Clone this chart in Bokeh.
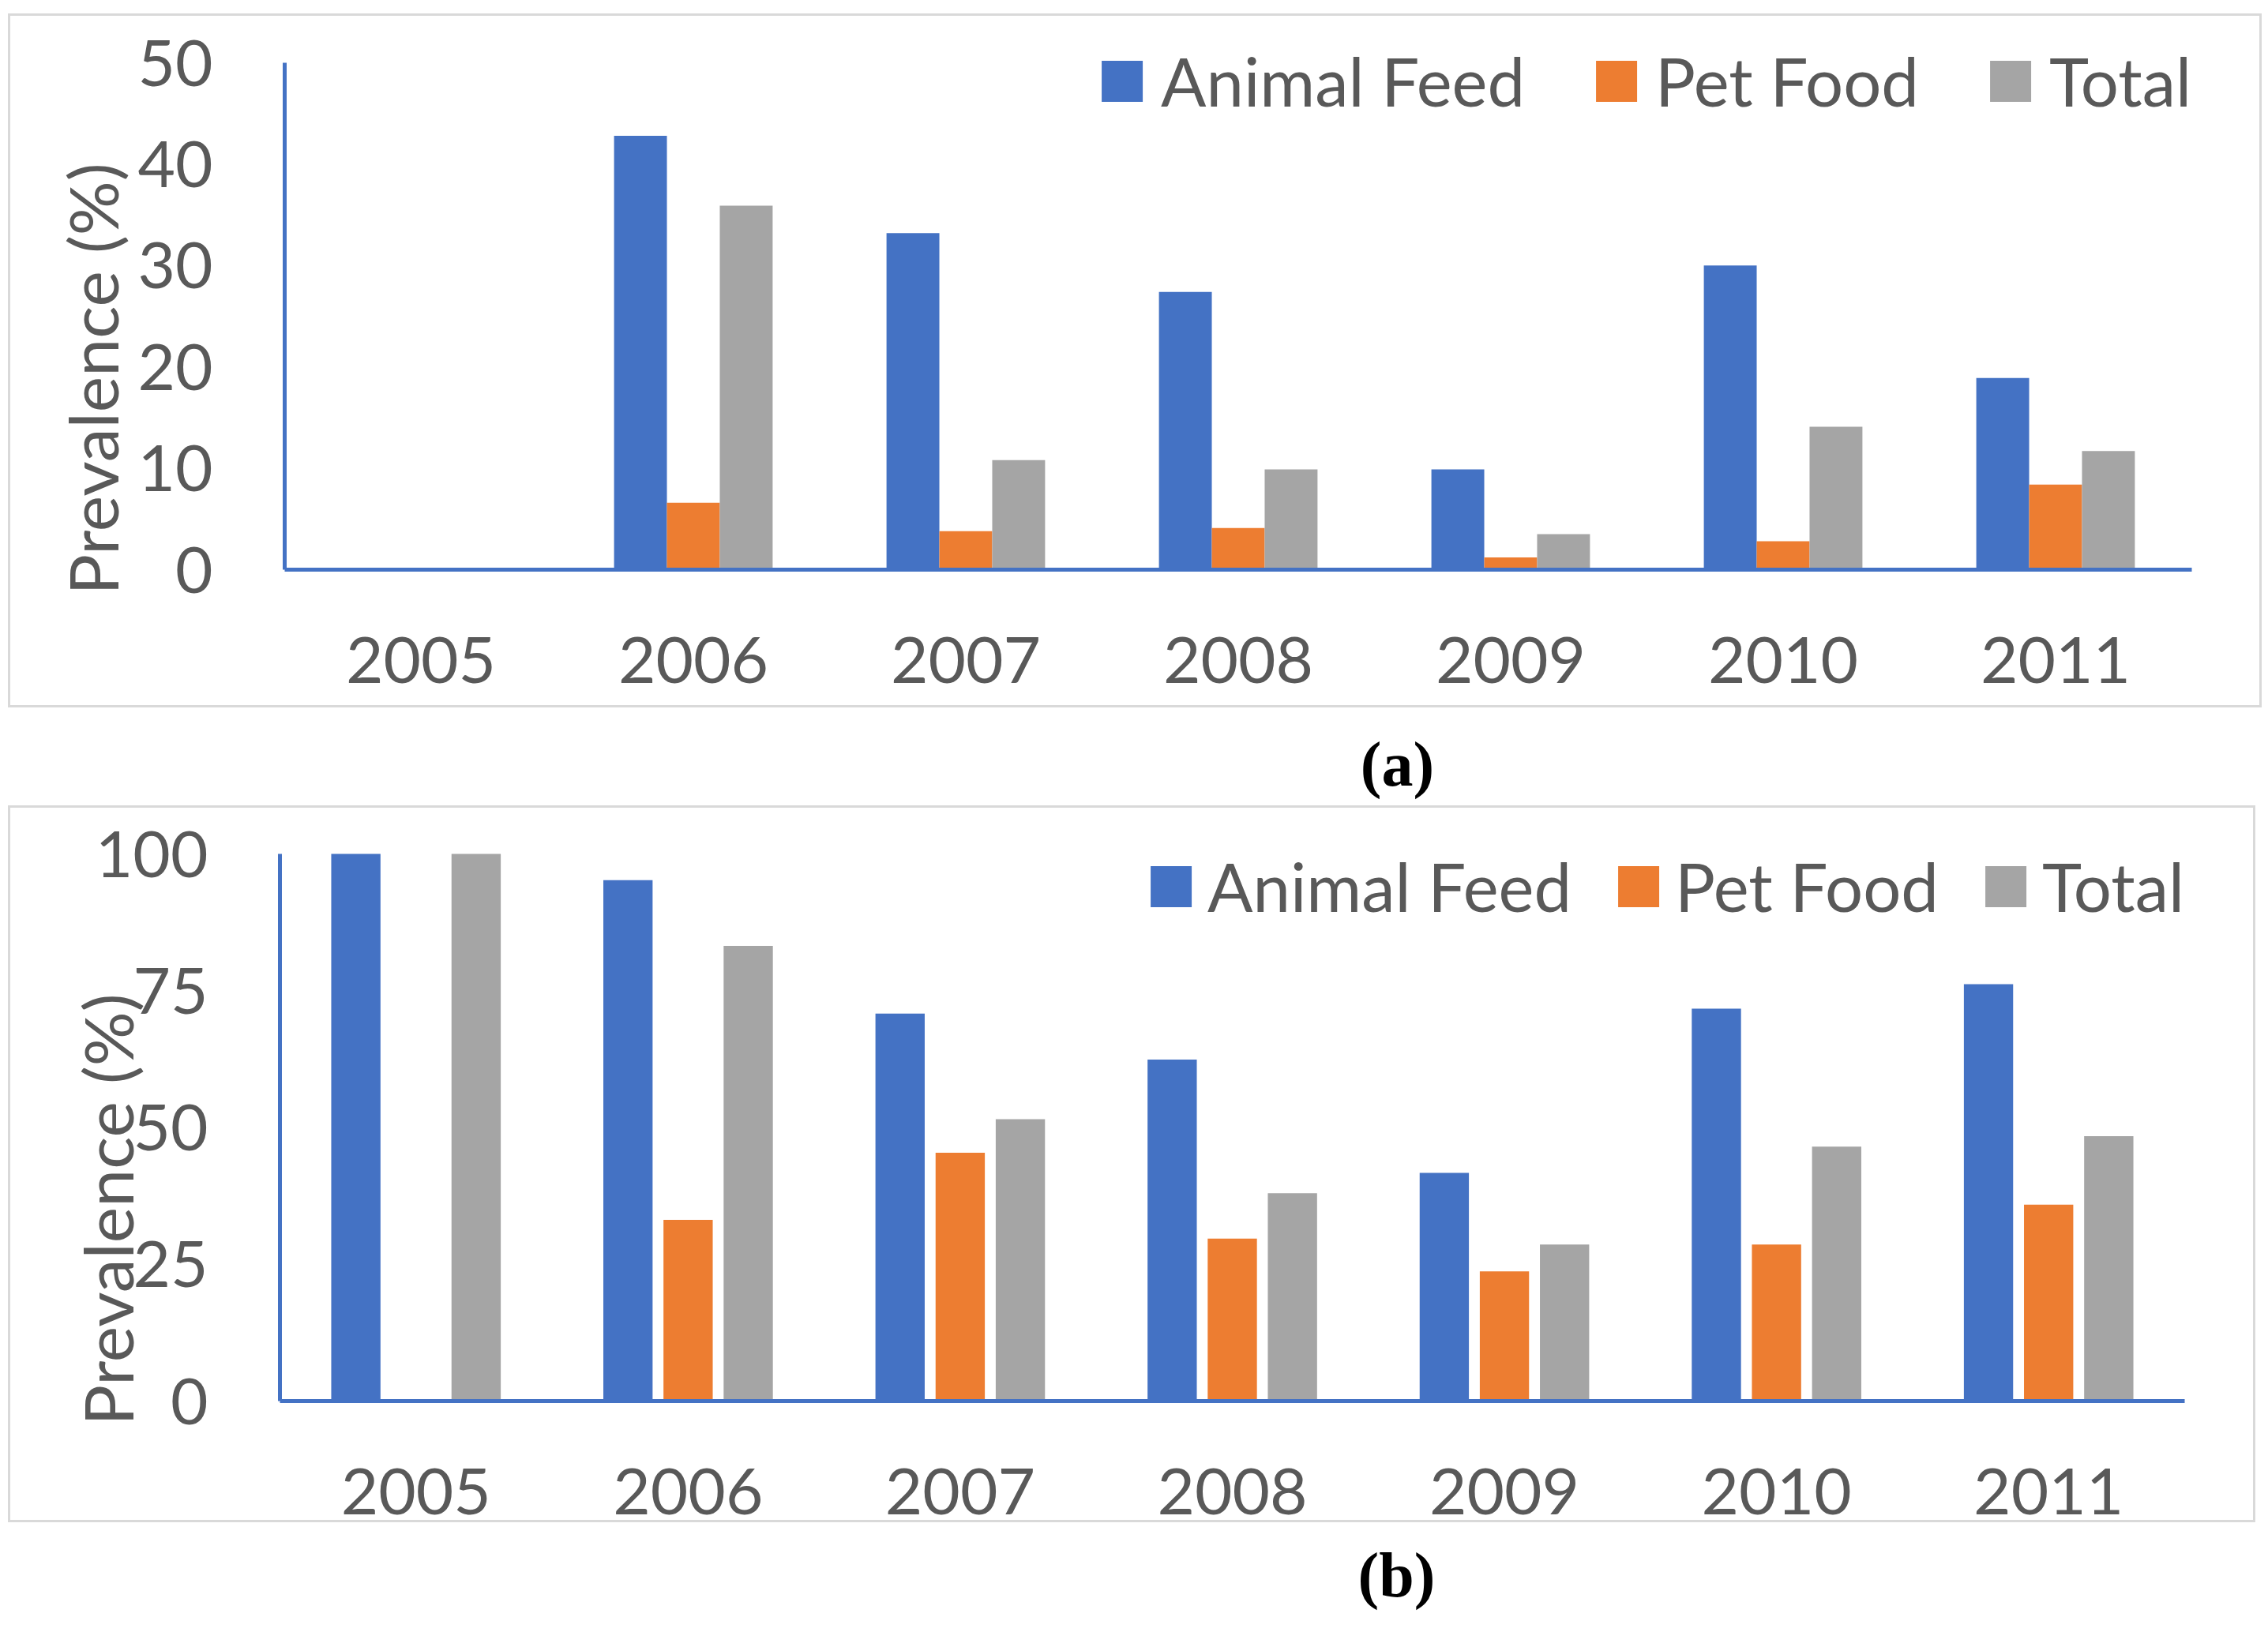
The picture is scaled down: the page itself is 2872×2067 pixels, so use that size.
import math
from bokeh.plotting import figure
from bokeh.models import (FactorRange, Range1d, Legend, LegendItem, Title,
                          ColumnDataSource, Spacer, FixedTicker)
from bokeh.layouts import column, row
from bokeh.transform import dodge
from bokeh.embed import file_html
from bokeh.resources import INLINE
from bokeh.core.properties import value

# ---------------- data ----------------
years = ["2005", "2006", "2007", "2008", "2009", "2010", "2011"]
series_names = ["Animal Feed", "Pet Food", "Total"]
series_colors = ["#4472C4", "#ED7D31", "#A5A5A5"]

a_animal_feed = [0, 42.8, 33.2, 27.4, 9.9, 30.0, 18.9]
a_pet_food = [0, 6.6, 3.8, 4.1, 1.2, 2.8, 8.4]
a_total = [0, 35.9, 10.8, 9.9, 3.5, 14.1, 11.7]
a_yticks = [0, 10, 20, 30, 40, 50]

b_animal_feed = [100, 95.2, 70.8, 62.4, 41.7, 71.7, 76.2]
b_pet_food = [0, 33.1, 45.4, 29.7, 23.7, 28.6, 35.9]
b_total = [100, 83.2, 51.5, 38.0, 28.6, 46.5, 48.4]
b_yticks = [0, 25, 50, 75, 100]

y_title = "Prevalence (%)"
captions = ["a", "b"]

TXT = "#595959"
FONT = "Lato"
FS = "82px"
BORDER = "#d9d9d9"


def border_styles(box_h):
    g = "linear-gradient(%s, %s)" % (BORDER, BORDER)
    return {
        "background-image": ", ".join([g] * 4),
        "background-repeat": "no-repeat",
        "background-position": "0px 0px, 0px %dpx, 0px 0px, 100%% 0px" % (box_h - 3),
        "background-size": "100%% 3px, 100%% 3px, 3px %dpx, 3px %dpx" % (box_h, box_h),
    }


def make_panel(w, h, box_h, bl, br, bt, bb, vals, ymax, ticks, bar_w, off,
               frame_h, extra_top, title_offset, title_standoff,
               leg_standoff, leg_spacing):
    y_end = ymax + extra_top * ymax / frame_h
    p = figure(width=w, height=h, x_range=FactorRange(*years, range_padding=0),
               y_range=Range1d(0, y_end), output_backend="svg",
               toolbar_location=None, min_border_left=bl, min_border_right=br,
               min_border_top=bt - extra_top, min_border_bottom=bb,
               border_fill_color=None, background_fill_color=None)
    p.styles = border_styles(box_h)
    p.outline_line_color = None
    p.xgrid.visible = False
    p.ygrid.visible = False
    src = ColumnDataSource(dict(year=years, s0=vals[0], s1=vals[1], s2=vals[2]))
    items = []
    for i, (nm, col) in enumerate(zip(series_names, series_colors)):
        r = p.vbar(x=dodge("year", (i - 1) * off, range=p.x_range), top="s%d" % i,
                   width=bar_w, source=src, fill_color=col, line_color=None)
        items.append(LegendItem(label=nm, renderers=[r]))
    for ax in (p.xaxis[0], p.yaxis[0]):
        ax.axis_line_color = "#4472C4"
        ax.axis_line_width = 5
        ax.major_tick_line_color = None
        ax.minor_tick_line_color = None
        ax.major_label_text_font = FONT
        ax.major_label_text_font_size = FS
        ax.major_label_text_color = TXT
    p.xaxis.major_label_standoff = 79
    p.yaxis.major_label_standoff = 85
    p.yaxis.ticker = FixedTicker(ticks=ticks)
    p.yaxis.bounds = (0, ymax)
    p.add_layout(Title(text=y_title, align="left", vertical_align="bottom",
                       offset=title_offset, standoff=title_standoff,
                       text_font=FONT, text_font_size="86px",
                       text_font_style="normal", text_color=TXT), "left")
    leg = Legend(items=items, orientation="horizontal", location="top_right",
                 glyph_width=65, glyph_height=65, label_standoff=leg_standoff,
                 spacing=leg_spacing, padding=0, margin=0, border_line_color=None,
                 background_fill_alpha=0, label_text_font=FONT,
                 label_text_font_size="85px", label_text_color=TXT)
    p.add_layout(leg)
    return p


def make_caption(w, h, letter, cx, cy):
    c = figure(width=w, height=h, x_range=Range1d(0, w), y_range=Range1d(0, h),
               output_backend="svg", toolbar_location=None, min_border=0)
    c.axis.visible = False
    c.grid.visible = False
    c.outline_line_color = None
    c.text(x=[cx], y=[cy], text=["(" + letter + ")"], text_font=value("Liberation Serif"),
           text_font_style="bold", text_font_size="80px", text_color="black",
           text_align="center", text_baseline="middle")
    return c


pa = make_panel(2854, 879, 879, 350, 89, 62, 175,
                [a_animal_feed, a_pet_food, a_total], 50, a_yticks, 0.194, 0.194,
                642, 28, -32, 8, 17, 83)
pb = make_panel(2846, 923, 908, 344, 90, 61, 169,
                [b_animal_feed, b_pet_food, b_total], 100, b_yticks, 0.181, 0.221,
                693, 10, -31, -138, 14, 52)
ca = make_caption(2864, 124, captions[0], 1769, 53)
cb = make_caption(2864, 120, captions[1], 1768, 69)

layout = column(Spacer(height=17), row(Spacer(width=10), pa), ca,
                row(Spacer(width=10), pb), cb, spacing=0)

open("out.html", "w").write(file_html(layout, INLINE))
